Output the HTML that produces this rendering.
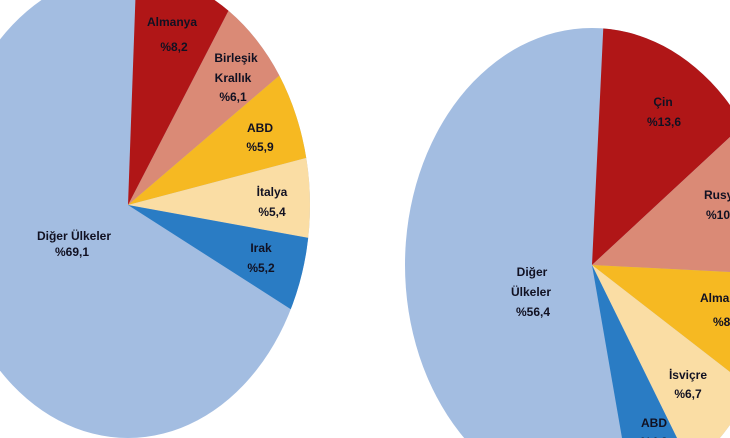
<!DOCTYPE html>
<html><head><meta charset="utf-8"><style>
html,body{margin:0;padding:0;background:#fff;width:730px;height:438px;overflow:hidden}
svg{display:block;overflow:hidden}
text{font-family:"Liberation Sans",Arial,sans-serif;font-weight:bold;font-size:12px;fill:#111122;text-anchor:middle}
</style></head><body>
<svg width="730" height="438" viewBox="0 0 730 438">
<defs>
<clipPath id="c1"><ellipse cx="128" cy="205" rx="182" ry="233"/></clipPath>
<clipPath id="c2"><ellipse cx="592" cy="265" rx="187" ry="237"/></clipPath>
</defs>
<g clip-path="url(#c1)">
<rect x="-100" y="-100" width="600" height="700" fill="#a3bde1"/>
<polygon points="128,205 234,0 282,-100 600,-100 600,-20 280,75" fill="#da8a76"/>
<polygon points="128,205 280,75 600,-20 600,130 306,158" fill="#f6b922"/>
<polygon points="128,205 306,158 600,80 600,320 309,238" fill="#fadda4"/>
<polygon points="128,205 309,238 600,320 500,500 292,310" fill="#2a7cc4"/>
<polygon points="128,205 234,0 282,-100 139,-100" fill="#b01617"/>
</g>
<g clip-path="url(#c2)">
<rect x="350" y="0" width="450" height="520" fill="#a3bde1"/>
<polygon points="592,265 607,-50 800,-50 800,100 730,137" fill="#b01617"/>
<polygon points="592,265 730,137 800,100 800,272 730,272" fill="#da8a76"/>
<polygon points="592,265 730,272 800,272 800,400 730,372" fill="#f6b922"/>
<polygon points="592,265 730,372 800,400 800,520 700,520 677,438" fill="#fadda4"/>
<polygon points="592,265 677,438 700,520 650,520 622,438" fill="#2a7cc4"/>
</g>
<text x="172" y="26">Almanya</text><text x="174" y="51">%8,2</text>
<text x="236" y="62">Birleşik</text><text x="233" y="82">Krallık</text><text x="233" y="101">%6,1</text>
<text x="260" y="132">ABD</text><text x="260" y="151">%5,9</text>
<text x="272" y="196">İtalya</text><text x="272" y="216">%5,4</text>
<text x="261" y="252">Irak</text><text x="261" y="272">%5,2</text>
<text x="74" y="240">Diğer Ülkeler</text><text x="72" y="256">%69,1</text>
<text x="663" y="106">Çin</text><text x="664" y="126">%13,6</text>
<text x="704" y="199" style="text-anchor:start">Rusya</text><text x="706" y="219" style="text-anchor:start">%10,2</text>
<text x="700" y="302" style="text-anchor:start">Almanya</text><text x="713" y="326" style="text-anchor:start">%8,1</text>
<text x="532" y="276">Diğer</text><text x="531" y="296">Ülkeler</text><text x="533" y="316">%56,4</text>
<text x="688" y="379">İsviçre</text><text x="688" y="398">%6,7</text>
<text x="654" y="427">ABD</text><text x="654" y="446">%4,3</text>
</svg>
</body></html>
